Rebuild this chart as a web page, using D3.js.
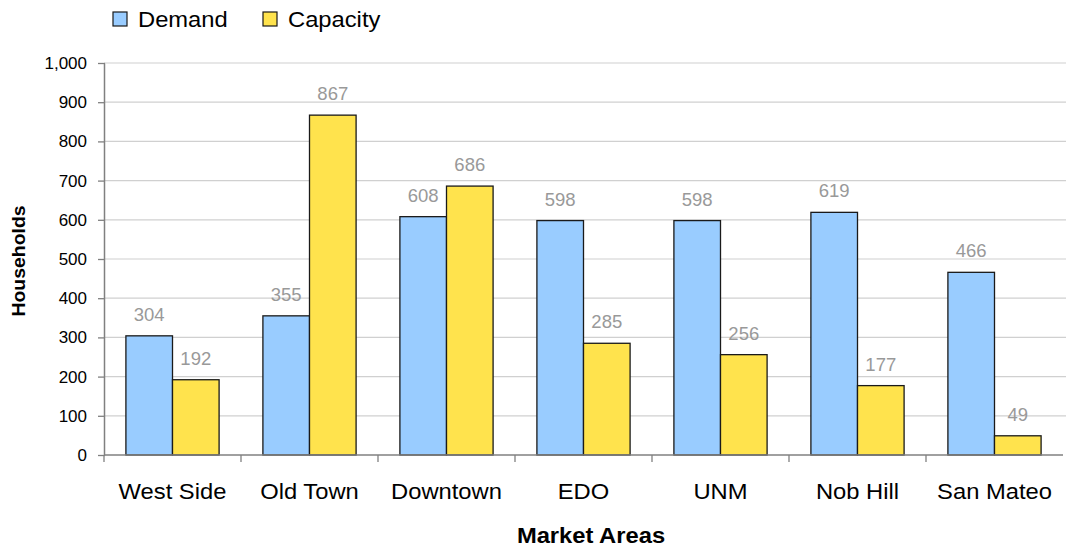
<!DOCTYPE html>
<html>
<head>
<meta charset="utf-8">
<script src="https://cdn.jsdelivr.net/npm/d3@7"></script>
<style>
  html, body { margin: 0; padding: 0; background: #fff; }
  svg { display: block; font-family: "Liberation Sans", Arial, sans-serif; }
</style>
</head>
<body>
<svg id="chart" width="1066" height="548"></svg>
<script>
// Households: demand vs. capacity by market area
const categories = ["West Side", "Old Town", "Downtown", "EDO", "UNM", "Nob Hill", "San Mateo"];
const demand = [304, 355, 608, 598, 598, 619, 466];
const capacity = [192, 867, 686, 285, 256, 177, 49];
const seriesNames = ["Demand", "Capacity"];
const seriesColors = ["#99ccff", "#ffe34d"];
const yTicks = [0, 100, 200, 300, 400, 500, 600, 700, 800, 900, 1000];

const svg = d3.select("#chart");
const margin = { left: 104, right: 3, top: 63, bottom: 93 };
const W = 1066, H = 548;
const plotW = W - margin.left - margin.right;
const plotH = H - margin.top - margin.bottom;
const stretch = 1.08; // slightly wide lettering

const g = svg.append("g").attr("transform", `translate(${margin.left},${margin.top})`);

const x0 = d3.scaleBand().domain(categories).range([0, plotW]).paddingInner(0).paddingOuter(0);
const x1 = d3.scaleBand().domain(seriesNames).range([0, x0.bandwidth()]).paddingInner(0).paddingOuter(0.47);
const y = d3.scaleLinear().domain([0, 1000]).range([plotH, 0]);

// horizontal gridlines
g.append("g").selectAll("line").data(yTicks.slice(1)).join("line")
  .attr("x1", 0).attr("x2", W - margin.left)
  .attr("y1", d => y(d)).attr("y2", d => y(d))
  .attr("stroke", "#d0d0d0").attr("stroke-width", 1.2);

const rows = categories.map((c, i) => ({ cat: c, values: [demand[i], capacity[i]] }));

const groups = g.selectAll("g.grp").data(rows).join("g")
  .attr("class", "grp")
  .attr("transform", d => `translate(${x0(d.cat)},0)`);

groups.selectAll("rect").data(d => d.values.map((v, j) => ({ v, s: seriesNames[j], j }))).join("rect")
  .attr("x", d => x1(d.s))
  .attr("y", d => y(d.v))
  .attr("width", x1.bandwidth())
  .attr("height", d => y(0) - y(d.v))
  .attr("fill", d => seriesColors[d.j])
  .attr("stroke", "#1a1a1a").attr("stroke-width", 1.3);

groups.selectAll("text.val").data(d => d.values.map((v, j) => ({ v, s: seriesNames[j] }))).join("text")
  .attr("class", "val")
  .attr("x", d => x1(d.s) + x1.bandwidth() / 2)
  .attr("y", d => y(d.v) - 15)
  .attr("text-anchor", "middle")
  .attr("font-size", 18.5)
  .attr("fill", "#999999")
  .text(d => d3.format(",")(d.v));

// y axis
const yAxis = g.append("g")
  .call(d3.axisLeft(y).tickValues(yTicks).tickFormat(d3.format(",")).tickSize(6).tickSizeOuter(0));
yAxis.select(".domain").attr("stroke", "#808080").attr("stroke-width", 1.5);
yAxis.selectAll(".tick line").attr("stroke", "#808080").attr("stroke-width", 1.3).attr("x2", -6).attr("x1", 1);
yAxis.selectAll(".tick text").attr("font-size", 17).attr("fill", "#000")
  .attr("font-family", "Liberation Sans, Arial, sans-serif").attr("x", -17);

// x axis baseline with separators between categories
const xAxis = g.append("g").attr("transform", `translate(0,${plotH})`);
xAxis.append("line").attr("x1", 0).attr("x2", plotW).attr("y1", 0).attr("y2", 0)
  .attr("stroke", "#808080").attr("stroke-width", 1.5);
xAxis.selectAll("line.sep").data(categories).join("line")
  .attr("class", "sep")
  .attr("x1", d => x0(d)).attr("x2", d => x0(d))
  .attr("y1", 0).attr("y2", 7)
  .attr("stroke", "#808080").attr("stroke-width", 1.3);
xAxis.selectAll("text").data(categories).join("text")
  .attr("transform", d => `translate(${x0(d) + x0.bandwidth() / 2},44) scale(${stretch},1)`)
  .attr("text-anchor", "middle")
  .attr("font-size", 22)
  .attr("fill", "#000")
  .text(d => d);

// axis titles
svg.append("text")
  .attr("transform", `translate(591,543) scale(${stretch},1)`)
  .attr("text-anchor", "middle")
  .attr("font-size", 22).attr("font-weight", "bold")
  .text("Market Areas");
svg.append("text")
  .attr("transform", `translate(25,261) rotate(-90) scale(${stretch},1)`)
  .attr("text-anchor", "middle")
  .attr("font-size", 18).attr("font-weight", "bold")
  .text("Households");

// legend
const legendX = [113, 263];
const legend = svg.append("g").selectAll("g").data(seriesNames).join("g")
  .attr("transform", (d, i) => `translate(${legendX[i]},12)`);
legend.append("rect")
  .attr("width", 14).attr("height", 14)
  .attr("fill", (d, i) => seriesColors[i])
  .attr("stroke", "#1a1a1a").attr("stroke-width", 1.2);
legend.append("text")
  .attr("transform", `translate(25,15) scale(${stretch},1)`)
  .attr("font-size", 22)
  .attr("fill", "#000")
  .text(d => d);
</script>
</body>
</html>
